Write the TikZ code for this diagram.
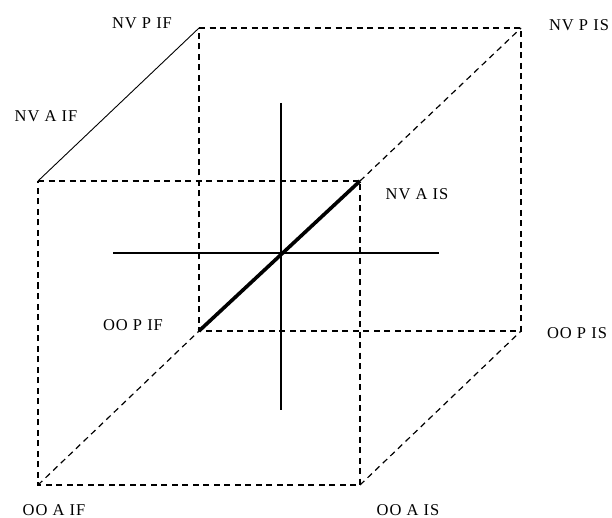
\documentclass[tikz,border=0pt]{standalone}
\usepackage{fontspec}
\setmainfont{Liberation Serif}
\begin{document}
\begin{tikzpicture}[x=1pt,y=-1pt,
  edge/.style={line width=1.2pt,dash pattern=on 6pt off 4.5pt},
  solidedge/.style={line width=0.9pt},
  axis/.style={line width=1.8pt},
  diag/.style={line width=3.6pt},
  lbl/.style={font=\fontsize{16.5}{18}\selectfont\addfontfeature{LetterSpace=6},inner sep=0pt}]
\useasboundingbox (0,0) rectangle (612,518);
% front face corners
\coordinate (FTL) at (38,181);
\coordinate (FTR) at (360,181);
\coordinate (FBL) at (38,485);
\coordinate (FBR) at (360,485);
% back face corners
\coordinate (BTL) at (199,28);
\coordinate (BTR) at (521,28);
\coordinate (BBL) at (199,331);
\coordinate (BBR) at (521,331);
% cross
\coordinate (CL) at (113,253);
\coordinate (CR) at (439,253);
\coordinate (CT) at (281,103);
\coordinate (CB) at (281,410);
% faces
\draw[edge] (FTL) -- (FTR) -- (FBR) -- (FBL) -- cycle;
\draw[edge] (BTL) -- (BTR) -- (BBR) -- (BBL) -- cycle;
% depth edges
\draw[solidedge] (FTL) -- (BTL);
\draw[edge] (FTR) -- (BTR);
\draw[edge] (FBL) -- (BBL);
\draw[edge] (FBR) -- (BBR);
% axes
\draw[axis] (CL) -- (CR);
\draw[axis] (CT) -- (CB);
\draw[diag] (BBL) -- (FTR);
% labels
\node[lbl] (nvpif) at (142,23) {NV P IF};
\node[lbl] (nvaif) at (46,116) {NV A IF};
\node[lbl] (nvpis) at (579,25) {NV P IS};
\node[lbl] (nvais) at (417,194) {NV A IS};
\node[lbl] (oopif) at (133,325) {OO P IF};
\node[lbl] (oopis) at (577,333) {OO P IS};
\node[lbl] (ooaif) at (54,510) {OO A IF};
\node[lbl] (ooais) at (408,510) {OO A IS};
\end{tikzpicture}
\end{document}
